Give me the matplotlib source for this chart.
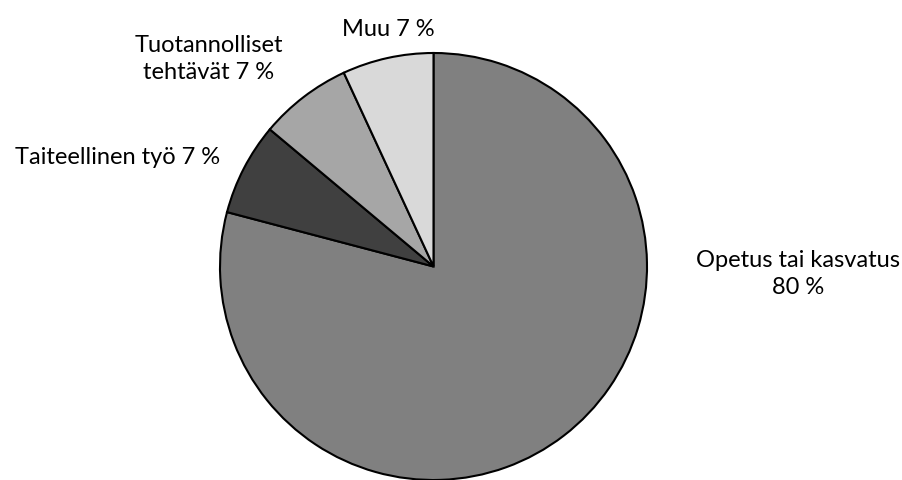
import matplotlib
matplotlib.use("Agg")
import matplotlib.pyplot as plt

categories = ["Opetus tai kasvatus", "Taiteellinen työ", "Tuotannolliset tehtävät", "Muu"]
values = [79.1, 7.0, 7.0, 6.9]
labels = ["Opetus tai kasvatus\n80 %", "Taiteellinen työ 7 %", "Tuotannolliset\ntehtävät 7 %", "Muu 7 %"]
colors = ["#808080", "#404040", "#a6a6a6", "#d9d9d9"]

W, H = 903, 480
fig = plt.figure(figsize=(W / 100, H / 100), dpi=100)
ax = fig.add_axes([0, 0, 1, 1])

cx, cy, r = 433.5, H - 266.5, 213.5
ax.pie(values, colors=colors, startangle=90, counterclock=False,
       center=(cx, cy), radius=r, frame=True,
       wedgeprops=dict(edgecolor="black", linewidth=1.5))
ax.set_xlim(0, W)
ax.set_ylim(0, H)
ax.set_aspect("equal")
ax.axis("off")

label_pos = [(798, 274), (117.5, 158), (209, 59), (388, 30)]
for lab, (x, y) in zip(labels, label_pos):
    ax.text(x, H - y, lab, ha="center", va="center", fontsize=17,
            family="Lato", color="#000000", linespacing=1.38)

fig.savefig("out.png", dpi=100)
